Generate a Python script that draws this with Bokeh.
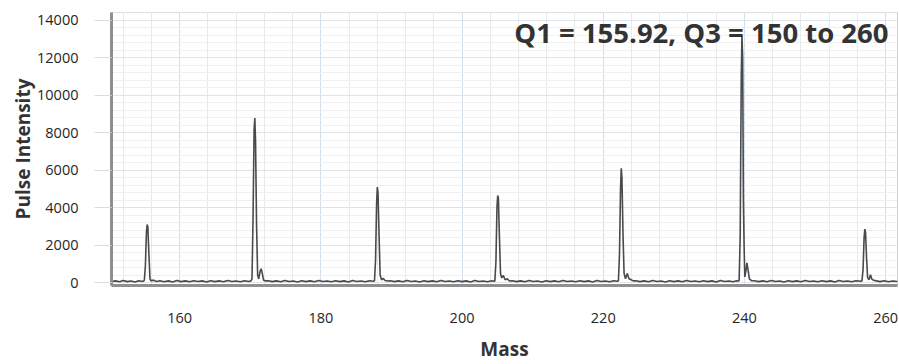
from bokeh.plotting import figure
from bokeh.models import Range1d, SingleIntervalTicker, Label
from bokeh.embed import file_html
from bokeh.resources import INLINE

# ---- data ----
mass = [
    # baseline
    150.4, 150.9, 151.5, 152.0, 152.6, 153.1, 153.7, 154.2, 154.8,
    # peak ~155.4
    155.0, 155.15, 155.3, 155.4, 155.5, 155.65, 155.8, 155.95,
    # baseline
    156.3, 156.7, 157.2, 157.8, 158.4, 159.0, 159.6, 160.2, 160.8, 161.4,
    162.0, 162.6, 163.2, 163.8, 164.4, 165.0, 165.6, 166.2, 166.8, 167.4,
    168.0, 168.6, 169.2, 169.8, 170.1,
    # peak ~170.65
    170.25, 170.4, 170.55, 170.65, 170.75, 170.9, 171.05, 171.2, 171.4,
    171.55, 171.7, 171.9, 172.15,
    # baseline
    172.6, 173.1, 173.7, 174.3, 174.9, 175.5, 176.1, 176.7, 177.3, 177.9,
    178.5, 179.1, 179.7, 180.3, 180.9, 181.5, 182.1, 182.7, 183.3, 183.9,
    184.5, 185.1, 185.7, 186.3, 186.9, 187.4,
    # peak ~188.0
    187.6, 187.75, 187.9, 188.0, 188.1, 188.25, 188.4, 188.6, 188.85,
    189.1, 189.45,
    # baseline
    189.8, 190.4, 191.0, 191.6, 192.2, 192.8, 193.4, 194.0, 194.6, 195.2,
    195.8, 196.4, 197.0, 197.6, 198.2, 198.8, 199.4, 200.0, 200.6, 201.2,
    201.8, 202.4, 203.0, 203.6, 204.2, 204.5,
    # peak ~205.1
    204.65, 204.8, 204.95, 205.05, 205.15, 205.3, 205.45, 205.6, 205.85,
    206.1, 206.4, 206.7,
    # baseline
    207.1, 207.7, 208.3, 208.9, 209.5, 210.1, 210.7, 211.3, 211.9, 212.5,
    213.1, 213.7, 214.3, 214.9, 215.5, 216.1, 216.7, 217.3, 217.9, 218.5,
    219.1, 219.7, 220.3, 220.9, 221.5, 222.0,
    # peak ~222.6
    222.15, 222.3, 222.45, 222.55, 222.65, 222.8, 222.95, 223.15, 223.4,
    223.65, 223.95, 224.25,
    # baseline
    224.6, 225.2, 225.8, 226.4, 227.0, 227.6, 228.2, 228.8, 229.4, 230.0,
    230.6, 231.2, 231.8, 232.4, 233.0, 233.6, 234.2, 234.8, 235.4, 236.0,
    236.6, 237.2, 237.8, 238.4, 238.9, 239.1,
    # peak ~239.7
    239.25, 239.4, 239.55, 239.65, 239.75, 239.85, 239.95, 240.05, 240.2,
    240.35, 240.5, 240.7, 241.0,
    # baseline
    241.4, 242.0, 242.6, 243.2, 243.8, 244.4, 245.0, 245.6, 246.2, 246.8,
    247.4, 248.0, 248.6, 249.2, 249.8, 250.4, 251.0, 251.6, 252.2, 252.8,
    253.4, 254.0, 254.6, 255.2, 255.8, 256.5,
    # peak ~257.1
    256.65, 256.8, 256.95, 257.05, 257.15, 257.3, 257.45, 257.65, 257.85,
    258.05, 258.3,
    # baseline
    258.7, 259.2, 259.8, 260.4, 261.0, 261.7]

intensity = [
    60, 90, 40, 110, 50, 80, 30, 100, 60,
    120, 900, 2700, 3100, 2950, 1500, 200, 90,
    130, 60, 100, 40, 90, 30, 110, 50, 90, 40,
    100, 60, 90, 30, 100, 50, 90, 40, 110, 60,
    80, 40, 100, 60, 90,
    200, 3500, 8200, 8780, 7600, 3000, 400, 200, 600,
    740, 500, 120, 90,
    100, 50, 90, 40, 110, 60, 80, 30, 100, 50,
    90, 40, 110, 60, 80, 40, 100, 50, 90, 30,
    110, 60, 80, 40, 100, 70,
    100, 1200, 4200, 5100, 4800, 2500, 400, 150, 220,
    110, 80,
    100, 50, 90, 40, 110, 60, 80, 30, 100, 50,
    90, 40, 110, 60, 80, 40, 100, 50, 90, 30,
    110, 60, 80, 40, 100, 70,
    90, 1100, 4000, 4650, 4500, 2400, 500, 250, 380,
    150, 200, 80,
    100, 50, 90, 40, 110, 60, 80, 30, 100, 50,
    90, 40, 110, 60, 80, 40, 100, 50, 90, 30,
    110, 60, 80, 40, 100, 70,
    100, 1500, 5000, 6100, 5600, 2600, 500, 200, 480,
    200, 150, 90,
    100, 50, 90, 40, 110, 60, 80, 30, 100, 50,
    90, 40, 110, 60, 80, 40, 100, 50, 90, 30,
    110, 60, 80, 40, 100, 70,
    120, 2500, 11000, 13180, 12000, 4500, 2000, 300, 600,
    1050, 700, 200, 100,
    100, 50, 90, 40, 110, 60, 80, 30, 100, 50,
    90, 40, 110, 60, 80, 40, 100, 50, 90, 30,
    110, 60, 80, 40, 100, 70,
    90, 700, 2400, 2850, 2700, 1300, 250, 150, 420,
    180, 120,
    90, 50, 100, 40, 80, 60]

annotation = "Q1 = 155.92, Q3 = 150 to 260"
x_label = "Mass"
y_label = "Pulse Intensity"

FONT = "Open Sans"

p = figure(width=899, height=364, output_backend="svg", toolbar_location=None,
           x_range=Range1d(150.35, 261.68), y_range=Range1d(-157, 14418),
           min_border_left=111, min_border_right=2, min_border_top=12,
           min_border_bottom=73)

p.background_fill_color = "white"
p.border_fill_color = "white"
p.outline_line_color = "#cfcfcf"
p.outline_line_width = 1

p.line(mass, intensity, line_color="#4a4a4a", line_width=1.6)

# axes
p.xaxis.ticker = SingleIntervalTicker(interval=20, num_minor_ticks=5)
p.yaxis.ticker = SingleIntervalTicker(interval=2000, num_minor_ticks=5)

for ax in (p.xaxis, p.yaxis):
    ax.axis_line_color = "#8f8f8f"
    ax.axis_line_width = 3
    ax.major_label_text_font = FONT
    ax.major_label_text_font_size = "14.5px"
    ax.major_label_text_color = "#262626"
    ax.axis_label_text_font = FONT
    ax.axis_label_text_font_size = "19px"
    ax.axis_label_text_font_style = "bold"
    ax.axis_label_text_color = "#333333"
    ax.minor_tick_out = 0
    ax.minor_tick_in = 0
    ax.major_tick_in = 0

p.xaxis.axis_label = x_label
p.yaxis.axis_label = y_label

p.xaxis.major_tick_out = 0
p.xaxis.major_label_standoff = 27
p.xaxis.axis_label_standoff = 10

p.yaxis.major_tick_out = 17
p.yaxis.major_tick_line_color = "#dcdcdc"
p.yaxis.major_tick_line_width = 1
p.yaxis.major_label_standoff = 16
p.yaxis.axis_label_standoff = -2

# grid
p.xgrid.grid_line_color = "#d3deeb"
p.xgrid.minor_grid_line_color = "#e9e9e9"
p.ygrid.grid_line_color = "#dde3ea"
p.ygrid.minor_grid_line_color = "#f0f0f0"

p.add_layout(Label(x=260.41, y=13373, text=annotation, text_align="right",
                   text_baseline="middle", text_font=FONT,
                   text_font_size="27.5px", text_font_style="bold",
                   text_color="#333333"))

open("out.html", "w").write(file_html(p, INLINE))
